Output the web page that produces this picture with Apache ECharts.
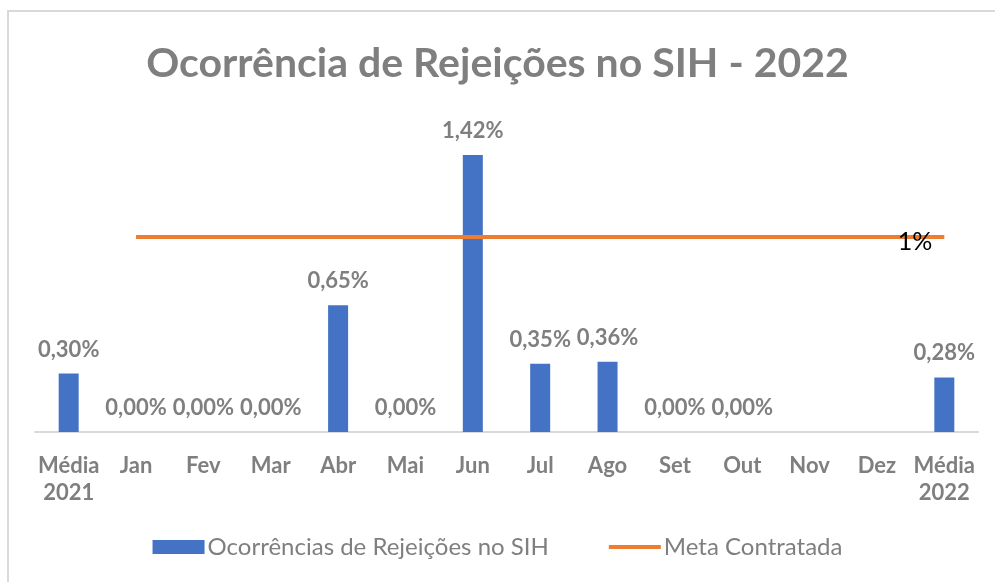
<!DOCTYPE html>
<html>
<head>
<meta charset="utf-8">
<script src="https://cdn.jsdelivr.net/npm/echarts@6/dist/echarts.min.js"></script>
<style>
  html, body { margin: 0; padding: 0; background: #fff; }
  #frame { position: absolute; left: 7px; top: 10px; width: 1000px; height: 600px; border: 2px solid #d9d9d9; box-sizing: border-box; }
  #chart { position: absolute; left: 0; top: 0; width: 995px; height: 582px; }
</style>
</head>
<body>
<div id="frame"></div>
<div id="chart"></div>
<script>
// categorias do eixo x
const categorias = ['Média\n2021', 'Jan', 'Fev', 'Mar', 'Abr', 'Mai', 'Jun', 'Jul', 'Ago', 'Set', 'Out', 'Nov', 'Dez', 'Média\n2022'];
// ocorrências (%) - Nov e Dez sem dado
const ocorrencias = [0.30, 0, 0, 0, 0.65, 0, 1.42, 0.35, 0.36, 0, 0, null, null, 0.28];
// meta contratada (%)
const meta = [null, 1, 1, 1, 1, 1, 1, 1, 1, 1, 1, 1, 1, 1];

const fonte = 'Lato, "Liberation Sans", sans-serif';
const cinza = '#7f7f7f';

const chart = echarts.init(document.getElementById('chart'));

// rótulo "1%" só no último ponto da meta
const metaDados = meta.map((v, i) => {
    if (i !== meta.length - 1) return v;
    return {
        value: v,
        label: {
            show: true,
            position: 'left',
            distance: 12,
            offset: [0, 5],
            fontFamily: fonte, fontSize: 25, color: '#000',
            formatter: p => p.value + '%'
        }
    };
});

const option = {
    animation: false,
    title: {
        text: 'Ocorrência de Rejeições no SIH - 2022',
        left: 'center',
        top: 38,
        textStyle: { fontFamily: fonte, fontSize: 41, fontWeight: 'bold', color: cinza }
    },
    legend: {
        bottom: 18,
        left: 'center',
        itemGap: 60,
        itemWidth: 52,
        itemHeight: 14,
        textStyle: { fontFamily: fonte, fontSize: 24, color: cinza, padding: [0, 0, 0, -2] },
        data: [
            { name: 'Ocorrências de Rejeições no SIH', icon: 'rect' },
            { name: 'Meta Contratada', icon: 'path://M0,0h52v4h-52z' }
        ]
    },
    grid: { left: 35, right: 17, top: 120, bottom: 150 },
    xAxis: {
        type: 'category',
        data: categorias,
        axisLine: { lineStyle: { color: '#d9d9d9', width: 2 } },
        axisTick: { show: false },
        axisLabel: {
            fontFamily: fonte, fontSize: 22, fontWeight: 'bold', color: cinza,
            lineHeight: 27, margin: 20, interval: 0
        }
    },
    yAxis: {
        type: 'value',
        min: 0,
        max: 1.6,
        show: false
    },
    series: [
        {
            name: 'Ocorrências de Rejeições no SIH',
            type: 'bar',
            data: ocorrencias,
            barWidth: 20,
            itemStyle: { color: '#4472c4' },
            label: {
                show: true,
                position: 'top',
                distance: 13,
                fontFamily: fonte, fontSize: 22, fontWeight: 'bold', color: cinza,
                formatter: p => p.value == null ? '' : p.value.toFixed(2).replace('.', ',') + '%'
            }
        },
        {
            name: 'Meta Contratada',
            type: 'line',
            data: metaDados,
            symbol: 'circle',
            symbolSize: 0,
            showSymbol: true,
            lineStyle: { color: '#ed7d31', width: 4 },
            itemStyle: { color: '#ed7d31' }
        }
    ]
};

chart.setOption(option);
</script>
</body>
</html>
